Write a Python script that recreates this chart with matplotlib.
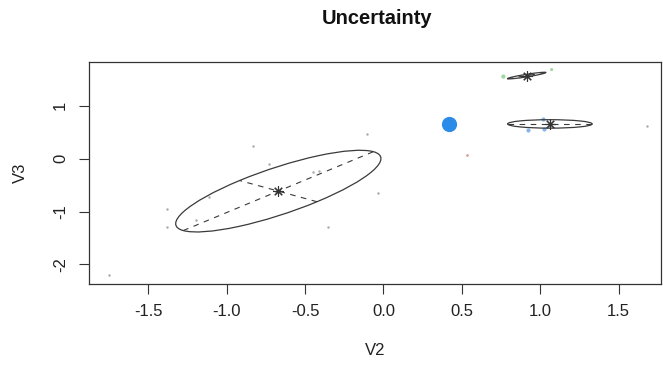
import numpy as np
import matplotlib
matplotlib.use('Agg')
import matplotlib.pyplot as plt
from matplotlib.patches import Ellipse

plt.rcParams['font.family'] = ['Liberation Sans', 'DejaVu Sans']

# component means and ellipse shapes (semi axes in data units, angle in degrees)
mean_x = [-0.671, 0.914, 1.062]
mean_y = [-0.614, 1.573, 0.658]
semi_a = [0.962, 0.136, 0.270]
semi_b = [0.318, 0.022, 0.080]
angle = [50.9, 26.0, 0.0]

# observations, grouped by how they are drawn
low_x = [-1.750, -1.384, -1.384, -1.197, -1.114, -0.835, -0.733, -0.452, -0.410,
         -0.107, -0.033, -0.352, 1.680]
low_y = [-2.20, -0.96, -1.30, -1.157, -0.733, 0.242, -0.098, -0.261, -0.230,
         0.463, -0.658, -1.30, 0.614]
red_x = [0.531]
red_y = [0.066]
green_x = [0.765, 1.073]
green_y = [1.554, 1.686]
blue_x = [1.020, 0.924, 1.024]
blue_y = [0.760, 0.552, 0.558]
high_x = [0.418]
high_y = [0.665]

xticks = [-1.5, -1.0, -0.5, 0.0, 0.5, 1.0, 1.5]
xtick_labels = ['-1.5', '-1.0', '-0.5', '0.0', '0.5', '1.0', '1.5']
yticks = [-2, -1, 0, 1]
ytick_labels = ['-2', '-1', '0', '1']

fig = plt.figure(figsize=(6.63, 3.79), dpi=100)
ax = fig.add_axes([89/663., 95/379., 572/663., 222/379.])

ax.scatter(low_x, low_y, s=3, color='#a8a8a8', linewidths=0, zorder=3)
ax.scatter(red_x, red_y, s=4, color='#d8a0a0', linewidths=0, zorder=3)
ax.scatter(green_x, green_y, s=[9, 5], color='#9ed89e', linewidths=0, zorder=3)
ax.scatter(blue_x, blue_y, s=9, color='#86b6ea', linewidths=0, zorder=3)
ax.scatter(high_x, high_y, s=120, color='#2a8ce8', linewidths=0, zorder=3)

for i in range(len(mean_x)):
    ell = Ellipse((mean_x[i], mean_y[i]), 2*semi_a[i], 2*semi_b[i], angle=angle[i],
                  fill=False, edgecolor='#3a3a3a', lw=0.9, zorder=4)
    ax.add_patch(ell)
    t = np.radians(angle[i])
    ux, uy = np.cos(t), np.sin(t)
    ax.plot([mean_x[i] - semi_a[i]*ux, mean_x[i] + semi_a[i]*ux],
            [mean_y[i] - semi_a[i]*uy, mean_y[i] + semi_a[i]*uy],
            color='#3a3a3a', lw=0.8, dashes=(5, 5), zorder=4)
    ax.plot([mean_x[i] + semi_b[i]*uy, mean_x[i] - semi_b[i]*uy],
            [mean_y[i] - semi_b[i]*ux, mean_y[i] + semi_b[i]*ux],
            color='#3a3a3a', lw=0.8, dashes=(5, 5), zorder=4)
    ax.plot(mean_x[i], mean_y[i], marker=(8, 2, 0), ms=7.5, mew=0.8,
            color='#333333', linestyle='none', zorder=5)

ax.set_xlim(-1.879, 1.771)
ax.set_ylim(-2.372, 1.830)
ax.set_xticks(xticks)
ax.set_xticklabels(xtick_labels)
ax.set_yticks(yticks)
ax.set_yticklabels(ytick_labels, rotation=90, va='center')
ax.tick_params(length=7.2, width=0.8, color='#333333', labelsize=12, labelcolor='#222222')
ax.tick_params(axis='x', pad=7.5)
ax.tick_params(axis='y', pad=8)
for sp in ax.spines.values():
    sp.set_color('#333333')
    sp.set_linewidth(0.9)

ax.set_xlabel('V2', fontsize=12, color='#222222', va='center')
ax.xaxis.set_label_coords(0.5, -0.30)
ax.set_ylabel('V3', fontsize=12, color='#222222', va='center')
ax.yaxis.set_label_coords(-0.1206, 0.5)

fig.text(377/663., 1 - 23.5/379., 'Uncertainty', ha='center', va='baseline',
         fontsize=14.5, fontweight='bold', color='#111111')

fig.savefig('out.png', dpi=100, facecolor='white')
